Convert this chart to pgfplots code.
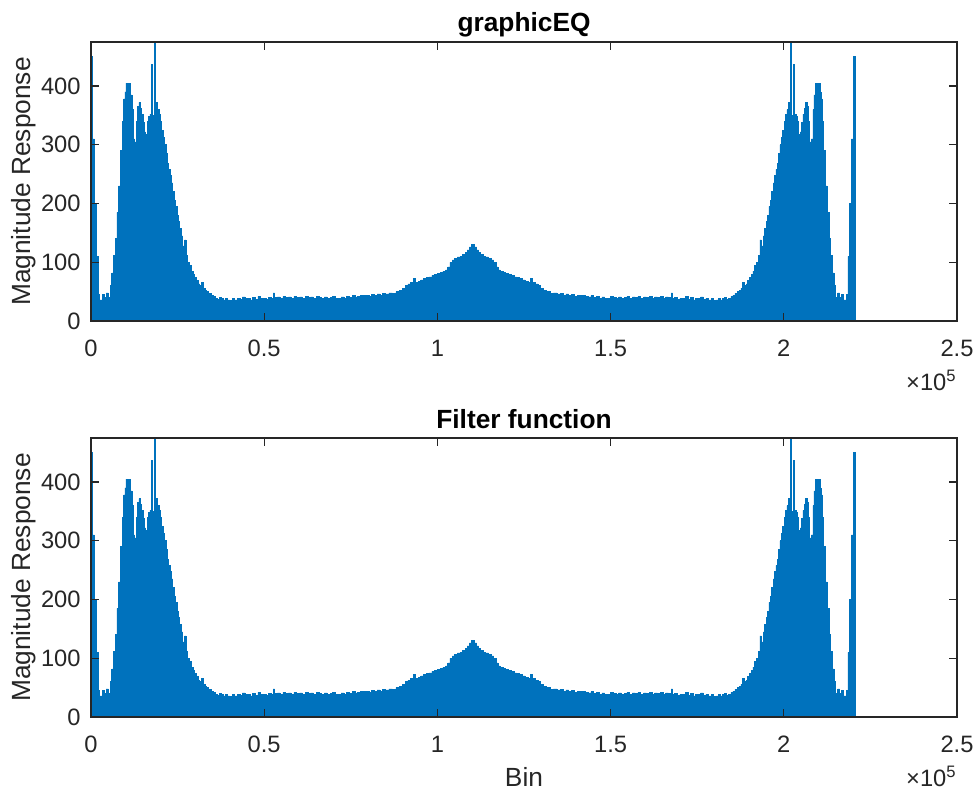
\documentclass[border=0pt]{standalone}
\usepackage{pgfplots}
\pgfplotsset{compat=1.18}
\usepackage{pgfplotstable}
\usepackage{fontspec}
\setmainfont{Liberation Sans}
\definecolor{mblue}{RGB}{0,114,189}
\definecolor{axgray}{RGB}{38,38,38}

\pgfplotstableread{
x y xr
0 450 220500
300 310 220200
1000 200 219500
1500 110 219000
2000 45 218500
2500 36 218000
3200 45 217300
3800 40 216700
4400 48 216100
5000 40 215500
5500 60 215000
6000 82 214500
6500 112 214000
7000 140 213500
7500 185 213000
8000 230 212500
8500 290 212000
9000 340 211500
9400 378 211100
9800 390 210700
10100 405 210400
10500 390 210000
10800 405 209700
11300 385 209200
11800 360 208700
12100 310 208400
12600 305 207900
13000 340 207500
13400 365 207100
13800 372 206700
14200 362 206300
14600 352 205900
15000 338 205500
15400 322 205100
15800 318 204700
16200 340 204300
16600 348 203900
17000 352 203500
17400 345 203100
17800 350 202700
18200 355 202300
18700 372 201800
19200 360 201300
19600 352 200900
20000 340 200500
20400 325 200100
20800 312 199700
21200 300 199300
21600 285 198900
22000 268 198500
22400 258 198100
22800 248 197700
23200 235 197300
23600 220 196900
24000 205 196500
24400 195 196100
24800 180 195700
25200 170 195300
25600 158 194900
26000 145 194500
26500 128 194000
27000 138 193500
27400 112 193100
27900 100 192600
28400 94 192100
28900 85 191600
29400 79 191100
29900 74 190600
30400 69 190100
30900 63 189600
31400 60 189100
31900 66 188600
32400 56 188100
32900 52 187600
33400 50 187100
34000 47 186500
34600 44 185900
35200 42 185300
35800 39 184700
36400 37 184100
37000 40 183500
37600 38 182900
38200 36 182300
38800 39 181700
39400 36 181100
40000 35 180500
40800 38 179700
41500 36 179000
42200 39 178300
43000 37 177500
43700 41 176800
44500 38 176000
45200 39 175300
46000 36 174500
46700 40 173800
47400 37 173100
48200 42 172300
49000 38 171500
49800 39 170700
50500 37 170000
51200 40 169300
52000 39 168500
52600 48 167900
53000 40 167500
53800 41 166700
54600 39 165900
55400 42 165100
56200 40 164300
57000 41 163500
57800 39 162700
58600 42 161900
59400 40 161100
60200 41 160300
61000 39 159500
61800 42 158700
62600 40 157900
63400 41 157100
64200 39 156300
65000 42 155500
65800 40 154700
66600 39 153900
67400 41 153100
68200 38 152300
69000 40 151500
69800 42 150700
70600 38 149900
71400 39 149100
72200 41 148300
73000 39 147500
73800 42 146700
74600 40 145900
75400 43 145100
76200 41 144300
77000 42 143500
77800 44 142700
78600 43 141900
79400 44 141100
80200 42 140300
81000 45 139500
81800 43 138700
82600 46 137900
83400 44 137100
84200 47 136300
85000 46 135500
86000 48 134500
87000 47 133500
88000 50 132500
89000 52 131500
90000 56 130500
90800 60 129700
91500 63 129000
92300 66 128200
93000 72 127500
93600 66 126900
94400 68 126100
95200 70 125300
96000 72 124500
96800 74 123700
97600 75 122900
98400 78 122100
99200 79 121300
100000 81 120500
100800 83 119700
101600 85 118900
102400 87 118100
103000 92 117500
103600 100 116900
104300 104 116200
105000 107 115500
105800 109 114700
106600 110 113900
107300 113 113200
108000 117 112500
108600 121 111900
109200 126 111300
109800 130 110700
110250 124 110250
}\spec

\pgfplotsset{mystyle/.style={
  scale only axis, width=433bp, height=139.5bp,
  xmin=0, xmax=250000, ymin=0, ymax=475,
  xtick={0,50000,100000,150000,200000,250000},
  xticklabels={0,0.5,1,1.5,2,2.5},
  ytick={0,100,200,300,400},
  scaled x ticks=false, scaled y ticks=false,
  tick align=inside,
  axis line style={axgray, line width=0.6bp},
  major tick style={axgray, line width=0.6bp},
  major tick length=4bp,
  tick label style={font=\fontsize{11.9}{13}\selectfont, text=axgray},
  /pgf/number format/assume math mode=true,
  xticklabel style={anchor=base, yshift=-17.5bp},
  yticklabel style={anchor=east, inner sep=0pt, xshift=-5bp},
  every axis y label/.style={at={(axis description cs:-0.0693,0.5)}, anchor=base, rotate=90, font=\fontsize{13.2}{15}\selectfont, text=axgray},
  every axis x label/.style={at={(axis description cs:0.5,-0.2473)}, anchor=base, font=\fontsize{13.2}{15}\selectfont, text=axgray},
  every axis title/.style={at={(axis description cs:0.5,1)}, anchor=base, yshift=5bp, font=\fontsize{13.2}{15}\selectfont\bfseries, text=black},
  ylabel={Magnitude Response},
  axis on top,
  clip mode=individual,
}}

\begin{document}
\begin{tikzpicture}
\begin{axis}[mystyle, title={graphicEQ}]
\addplot[fill=mblue, draw=mblue, line width=0.3bp, const plot] table[x=x, y=y]{\spec} \closedcycle;
\addplot[fill=mblue, draw=mblue, line width=0.3bp, const plot] table[x=xr, y=y]{\spec} \closedcycle;
\addplot[ycomb, mblue, line width=1bp] coordinates {(17600,437) (18400,480) (202100,480) (202900,437)};
\node[anchor=base east, font=\fontsize{11.9}{13}\selectfont, text=axgray, inner sep=0pt] at (rel axis cs:1,0) [yshift=-34.5bp] {×10\textsuperscript{5}};
\end{axis}
\begin{axis}[mystyle, at={(0,-198bp)}, title={Filter function}, xlabel={Bin}]
\addplot[fill=mblue, draw=mblue, line width=0.3bp, const plot] table[x=x, y=y]{\spec} \closedcycle;
\addplot[fill=mblue, draw=mblue, line width=0.3bp, const plot] table[x=xr, y=y]{\spec} \closedcycle;
\addplot[ycomb, mblue, line width=1bp] coordinates {(17600,437) (18400,480) (202100,480) (202900,437)};
\node[anchor=base east, font=\fontsize{11.9}{13}\selectfont, text=axgray, inner sep=0pt] at (rel axis cs:1,0) [yshift=-34.5bp] {×10\textsuperscript{5}};
\end{axis}
\pgfresetboundingbox
\path[use as bounding box] (-45.5bp,-234.5bp) rectangle (443bp,160.5bp);
\end{tikzpicture}
\end{document}
